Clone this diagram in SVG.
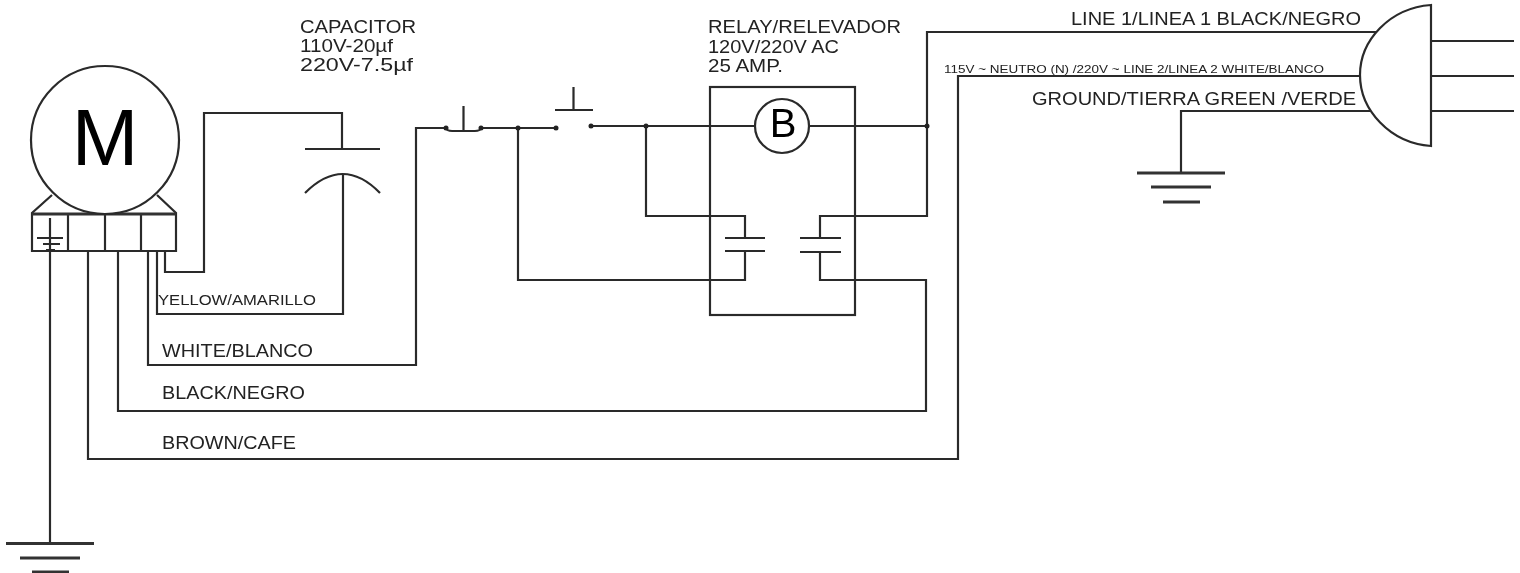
<svg xmlns="http://www.w3.org/2000/svg" width="1520" height="573" viewBox="0 0 1520 573">
<style>
.w{fill:none;stroke:#2a2a2a;stroke-width:2.200;stroke-linejoin:miter}
.d{fill:#222}
.g{stroke:#333;stroke-width:3;fill:none}
text{font-family:"Liberation Sans",Arial,sans-serif;fill:#222}
</style>
<defs><filter id="b" x="0" y="0" width="1520" height="573" filterUnits="userSpaceOnUse"><feGaussianBlur stdDeviation="0.7"/></filter></defs>
<rect width="1520" height="573" fill="#fff"/>
<g filter="url(#b)">
<g id="connectors" class="w">
<path d="M165 251V272H204V113H342V149"/>
<path d="M343 175V314H157V251"/>
<path d="M148 251V365H416V128H446"/>
<path d="M118 251V411H926V280H820V252"/>
<path d="M88 251V459H958V76H1361"/>
<path d="M50 251V543"/>
<path d="M481 128H556"/>
<path d="M591 126H755"/>
<path d="M809 126H927"/>
<path d="M646 126V216H745V238"/>
<path d="M518 128V280H745V251"/>
<path d="M820 238V216H927V32H1376"/>
<path d="M1370 111H1181V173"/>
</g>
<g id="motor">
<path class="w" d="M52 195L32 213V251H176V213L157 195M68 213V251M105 213V251M141 213V251"/>
<path d="M32 214H176" stroke="#333" stroke-width="3" fill="none"/>
<circle class="w" cx="105" cy="140" r="74" style="fill:#fff"/>
<text x="105" y="165" font-size="80" text-anchor="middle" style="fill:#000">M</text>
<path class="w" d="M50 218V251"/>
<path class="w" d="M37 238H63M43 244H60M46 250H55"/>
</g>
<g id="ground-motor"><path class="g" d="M6 543.500H94M20 558H80M32 572H69"/></g>
<g id="capacitor">
<path class="w" d="M305 149H380M305 193Q343 155 380 193"/>
<text x="300" y="33" font-size="18" textLength="116" lengthAdjust="spacingAndGlyphs">CAPACITOR</text>
<text x="300" y="52" font-size="18" textLength="93" lengthAdjust="spacingAndGlyphs">110V-20µf</text>
<text x="300" y="71" font-size="18" textLength="113" lengthAdjust="spacingAndGlyphs">220V-7.5µf</text>
</g>
<g id="switch-nc">
<path class="w" d="M463.500 106V131M446 128Q447 131 452 131H475Q480 131 481 128"/>
<circle class="d" cx="446" cy="128" r="2.500"/><circle class="d" cx="481" cy="128" r="2.500"/>
</g>
<g id="switch-no">
<path class="w" d="M573.500 87V110M555 110H593"/>
<circle class="d" cx="556" cy="128" r="2.500"/><circle class="d" cx="591" cy="126" r="2.500"/>
</g>
<g id="junctions">
<circle class="d" cx="518" cy="128" r="2.500"/><circle class="d" cx="646" cy="126" r="2.500"/><circle class="d" cx="927" cy="126" r="2.500"/>
</g>
<g id="relay">
<rect class="w" x="710" y="87" width="145" height="228"/>
<circle class="w" cx="782" cy="126" r="27" style="fill:#fff"/>
<text x="783" y="137" font-size="40" text-anchor="middle" style="fill:#000">B</text>
<path class="w" d="M725 238H765M725 251H765M800 238H841M800 252H841"/>
<text x="708" y="33" font-size="18" textLength="193" lengthAdjust="spacingAndGlyphs">RELAY/RELEVADOR</text>
<text x="708" y="53" font-size="18" textLength="131" lengthAdjust="spacingAndGlyphs">120V/220V AC</text>
<text x="708" y="72" font-size="18" textLength="75" lengthAdjust="spacingAndGlyphs">25 AMP.</text>
</g>
<g id="plug">
<path class="w" d="M1431 5C1390 8 1360 40 1360 75C1360 110 1390 143 1431 146Z" style="fill:#fff"/>
<path class="w" d="M1431 41H1514M1431 76H1514M1431 111H1514"/>
</g>
<g id="ground-plug"><path class="g" d="M1137 173H1225M1151 187H1211M1163 202H1200"/></g>
<g id="labels">
<text x="1071" y="25" font-size="18" textLength="290" lengthAdjust="spacingAndGlyphs">LINE 1/LINEA 1 BLACK/NEGRO</text>
<text x="944" y="73" font-size="10.500" textLength="380" lengthAdjust="spacingAndGlyphs">115V ~ NEUTRO (N) /220V ~ LINE 2/LINEA 2 WHITE/BLANCO</text>
<text x="1032" y="105" font-size="18" textLength="324" lengthAdjust="spacingAndGlyphs">GROUND/TIERRA GREEN /VERDE</text>
<text x="158" y="305" font-size="14" textLength="158" lengthAdjust="spacingAndGlyphs">YELLOW/AMARILLO</text>
<text x="162" y="357" font-size="18" textLength="151" lengthAdjust="spacingAndGlyphs">WHITE/BLANCO</text>
<text x="162" y="399" font-size="18" textLength="143" lengthAdjust="spacingAndGlyphs">BLACK/NEGRO</text>
<text x="162" y="449" font-size="18" textLength="134" lengthAdjust="spacingAndGlyphs">BROWN/CAFE</text>
</g>
</g>
</svg>
